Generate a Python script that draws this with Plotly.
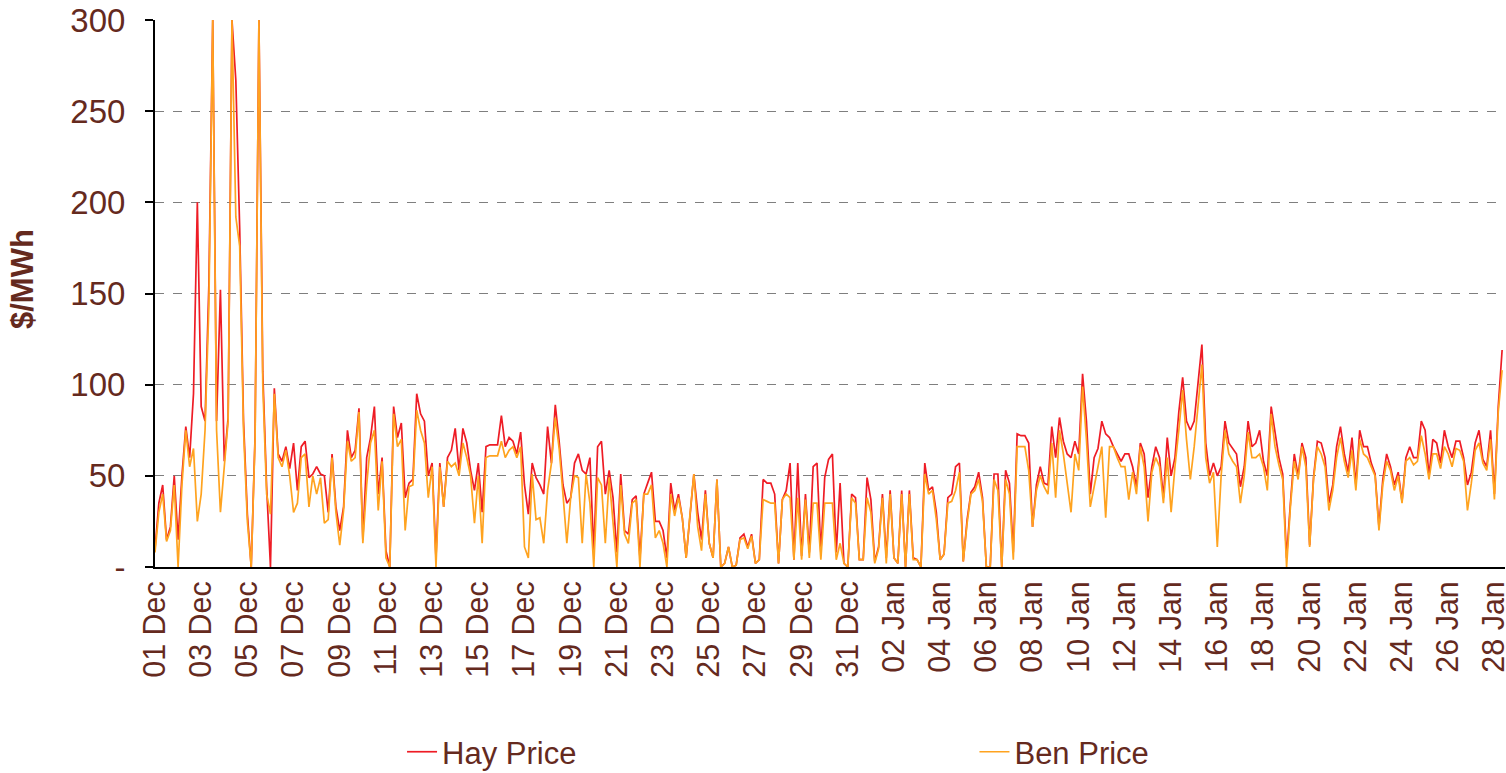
import pandas as pd
import plotly.graph_objects as go

# 4-hourly samples, starting 01 Dec 00:00
start_time = "2009-12-01 00:00"
hay_price = [
    10, 35, 45, 15, 22, 50,      # 01 Dec
    15, 50, 77, 60, 95, 200,     # 02 Dec
    88, 80, 155, 300, 80, 152,   # 03 Dec
    58, 82, 300, 267, 186, 80,   # 04 Dec
    29, 0, 72, 300, 107, 44,     # 05 Dec
    0, 98, 62, 58, 66, 54,       # 06 Dec
    68, 42, 66, 69, 49, 51,      # 07 Dec
    55, 51, 50, 30, 62, 33,      # 08 Dec
    20, 33, 75, 60, 64, 87,      # 09 Dec
    15, 60, 71, 88, 40, 60,      # 10 Dec
    9, 0, 88, 71, 79, 38,        # 11 Dec
    46, 48, 95, 84, 80, 50,      # 12 Dec
    57, 5, 57, 33, 60, 64,       # 13 Dec
    76, 53, 76, 68, 53, 42,      # 14 Dec
    57, 30, 66, 67, 67, 67,      # 15 Dec
    83, 66, 71, 69, 62, 74,      # 16 Dec
    45, 29, 57, 49, 45, 40,      # 17 Dec
    77, 57, 89, 69, 45, 35,      # 18 Dec
    38, 57, 62, 53, 51, 60,      # 19 Dec
    8, 66, 69, 40, 53, 38,       # 20 Dec
    8, 51, 20, 18, 37, 39,       # 21 Dec
    5, 40, 46, 52, 25, 25,       # 22 Dec
    20, 5, 46, 31, 40, 27,       # 23 Dec
    5, 29, 51, 30, 15, 42,       # 24 Dec
    13, 5, 48, 0, 2, 11,         # 25 Dec
    0, 1, 16, 18, 11, 18,        # 26 Dec
    2, 4, 48, 46, 46, 40,        # 27 Dec
    2, 37, 42, 57, 4, 57,        # 28 Dec
    6, 40, 8, 55, 57, 8,         # 29 Dec
    49, 59, 62, 8, 46, 2,        # 30 Dec
    0, 40, 38, 4, 4, 49,         # 31 Dec
    37, 3, 11, 40, 5, 42,        # 01 Jan
    5, 2, 42, 0, 42, 5,          # 02 Jan
    4, 0, 57, 42, 44, 30,        # 03 Jan
    4, 7, 38, 40, 55, 57,        # 04 Jan
    3, 26, 41, 44, 52, 38,       # 05 Jan
    0, 0, 51, 51, 0, 53,         # 06 Jan
    46, 8, 73, 72, 72, 68,       # 07 Jan
    22, 45, 55, 46, 45, 77,      # 08 Jan
    60, 82, 69, 62, 60, 69,      # 09 Jan
    62, 106, 80, 40, 60, 65,     # 10 Jan
    80, 73, 71, 66, 62, 58,      # 11 Jan
    62, 62, 55, 44, 68, 62,      # 12 Jan
    38, 55, 66, 60, 38, 71,      # 13 Jan
    50, 60, 85, 104, 80, 75,     # 14 Jan
    80, 102, 122, 68, 50, 57,    # 15 Jan
    50, 55, 80, 68, 65, 62,      # 16 Jan
    44, 55, 80, 66, 68, 75,      # 17 Jan
    58, 50, 88, 73, 60, 51,      # 18 Jan
    5, 35, 62, 50, 68, 60,       # 19 Jan
    12, 49, 69, 68, 60, 35,      # 20 Jan
    45, 66, 77, 62, 52, 71,      # 21 Jan
    45, 75, 66, 66, 57, 51,      # 22 Jan
    22, 48, 62, 55, 45, 52,      # 23 Jan
    36, 60, 66, 60, 60, 80,      # 24 Jan
    75, 50, 70, 68, 57, 75,      # 25 Jan
    66, 60, 69, 69, 60, 45,      # 26 Jan
    52, 68, 75, 59, 55, 75,      # 27 Jan
    40, 88, 119,                 # 28 Jan
]
ben_price = [
    8, 30, 40, 14, 20, 45,       # 01 Dec
    0, 45, 75, 55, 65, 25,       # 02 Dec
    40, 75, 143, 300, 75, 30,    # 03 Dec
    55, 80, 300, 192, 176, 75,   # 04 Dec
    25, 0, 70, 300, 100, 40,     # 05 Dec
    29, 95, 60, 55, 64, 50,      # 06 Dec
    30, 35, 60, 62, 33, 50,      # 07 Dec
    40, 49, 24, 26, 60, 30,      # 08 Dec
    12, 31, 69, 58, 60, 85,      # 09 Dec
    13, 45, 68, 75, 31, 58,      # 10 Dec
    5, 0, 84, 66, 70, 20,        # 11 Dec
    44, 45, 86, 75, 68, 38,      # 12 Dec
    55, 0, 55, 33, 58, 55,       # 13 Dec
    57, 50, 68, 60, 50, 24,      # 14 Dec
    50, 13, 60, 61, 61, 61,      # 15 Dec
    69, 60, 64, 66, 60, 66,      # 16 Dec
    11, 5, 51, 26, 27, 13,       # 17 Dec
    42, 57, 82, 65, 40, 13,      # 18 Dec
    38, 50, 49, 13, 51, 35,      # 19 Dec
    0, 49, 45, 13, 49, 22,       # 20 Dec
    0, 45, 18, 13, 35, 37,       # 21 Dec
    0, 40, 40, 45, 16, 20,       # 22 Dec
    13, 0, 40, 28, 38, 27,       # 23 Dec
    5, 29, 51, 22, 9, 40,        # 24 Dec
    13, 5, 48, 0, 2, 11,         # 25 Dec
    0, 1, 15, 16, 10, 17,        # 26 Dec
    2, 4, 37, 36, 35, 35,        # 27 Dec
    2, 37, 40, 38, 4, 38,        # 28 Dec
    4, 37, 5, 35, 35, 4,         # 29 Dec
    35, 35, 35, 4, 13, 2,        # 30 Dec
    0, 38, 35, 4, 4, 38,         # 31 Dec
    30, 2, 10, 38, 2, 40,        # 01 Jan
    5, 2, 40, 0, 40, 4,          # 02 Jan
    4, 0, 51, 40, 42, 26,        # 03 Jan
    4, 7, 35, 36, 42, 52,        # 04 Jan
    3, 24, 40, 42, 48, 36,       # 05 Jan
    0, 0, 48, 42, 0, 48,         # 06 Jan
    40, 4, 66, 66, 66, 53,       # 07 Jan
    22, 42, 50, 44, 40, 68,      # 08 Jan
    38, 75, 62, 46, 30, 62,      # 09 Jan
    53, 99, 70, 33, 45, 55,      # 10 Jan
    66, 27, 66, 66, 60, 55,      # 11 Jan
    55, 37, 52, 40, 66, 55,      # 12 Jan
    25, 52, 60, 55, 35, 60,      # 13 Jan
    30, 55, 75, 97, 70, 48,      # 14 Jan
    66, 90, 111, 60, 46, 52,     # 15 Jan
    11, 50, 75, 62, 58, 55,      # 16 Jan
    35, 50, 74, 60, 60, 62,      # 17 Jan
    55, 42, 84, 66, 56, 48,      # 18 Jan
    0, 33, 58, 48, 66, 55,       # 19 Jan
    11, 48, 66, 62, 55, 31,      # 20 Jan
    42, 60, 71, 58, 49, 64,      # 21 Jan
    42, 70, 62, 60, 55, 50,      # 22 Jan
    20, 45, 58, 53, 42, 50,      # 23 Jan
    35, 58, 60, 56, 58, 72,      # 24 Jan
    62, 48, 62, 62, 54, 66,      # 25 Jan
    62, 55, 65, 64, 58, 31,      # 26 Jan
    46, 64, 68, 57, 53, 70,      # 27 Jan
    37, 85, 108,                 # 28 Jan
]
y_tick_values = [0, 50, 100, 150, 200, 250, 300]
y_tick_labels = ["-", "50", "100", "150", "200", "250", "300"]
x_tick_dates = pd.date_range("2009-12-01", "2010-01-28", freq="2D")

times = pd.date_range(start_time, periods=len(hay_price), freq="4h")

TEXT = "#652a1e"
FONT = "Liberation Sans, Arial, sans-serif"

fig = go.Figure()
fig.add_trace(go.Scatter(x=times, y=hay_price, mode="lines", name="Hay Price",
                         line=dict(color="#ee1c25", width=1.7), legend="legend"))
fig.add_trace(go.Scatter(x=times, y=ben_price, mode="lines", name="Ben Price",
                         line=dict(color="#ffa31f", width=1.7), legend="legend2"))

fig.update_layout(
    width=1506, height=773,
    margin=dict(l=155, r=1, t=20, b=206, autoexpand=False),
    paper_bgcolor="white", plot_bgcolor="white",
    font=dict(family=FONT, size=30, color=TEXT),
    showlegend=True,
    legend=dict(orientation="h", x=0.183, xanchor="left", y=-0.289, yanchor="top",
                font=dict(size=31, color=TEXT), bgcolor="rgba(0,0,0,0)"),
    legend2=dict(orientation="h", x=0.607, xanchor="left", y=-0.289, yanchor="top",
                 font=dict(size=31, color=TEXT), bgcolor="rgba(0,0,0,0)"),
    annotations=[dict(text="<b>$/MWh</b>", textangle=-90, showarrow=False,
                      xref="paper", yref="paper", x=-0.0985, y=0.5265,
                      xanchor="center", yanchor="middle",
                      font=dict(size=31, color=TEXT))],
)
fig.update_xaxes(
    type="date", automargin=False,
    range=["2009-12-01 00:00", "2010-01-28 11:00"],
    tickvals=x_tick_dates, tickformat="%d %b", tickangle=-90,
    tickfont=dict(size=30.5, color=TEXT),
    showgrid=False, zeroline=False,
    showline=True, linecolor="black", linewidth=2,
    ticks="", ticklabelstandoff=0, ticklabeloverflow="allow",
)
fig.update_yaxes(
    range=[0, 300], automargin=False,
    tickvals=y_tick_values, ticktext=y_tick_labels,
    tickfont=dict(size=33, color=TEXT),
    showgrid=True, gridcolor="#7f7f7f", gridwidth=1, griddash="dash",
    zeroline=False,
    showline=True, linecolor="black", linewidth=2,
    ticks="outside", ticklen=8, tickcolor="black", tickwidth=1.5,
    ticklabelstandoff=13, ticklabeloverflow="allow",
)

fig.write_html("out.html", config={"displayModeBar": False},
               post_script="document.body.style.margin='0';document.body.style.overflow='hidden';")
